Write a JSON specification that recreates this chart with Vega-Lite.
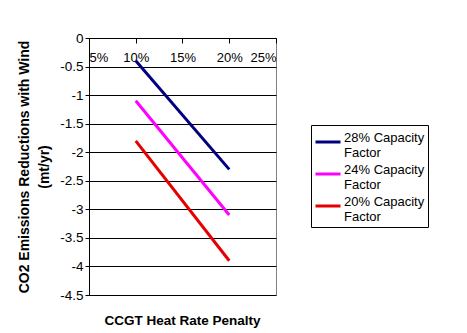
{
  "$schema": "https://vega.github.io/schema/vega-lite/v6.json",
  "width": 187,
  "height": 257,
  "autosize": "none",
  "padding": {"left": 89, "top": 38, "right": 191, "bottom": 38},
  "background": "white",
  "config": {
    "font": "Liberation Sans",
    "view": {"stroke": "#808080", "strokeWidth": 1}
  },
  "title": {
    "text": "CCGT Heat Rate Penalty",
    "orient": "bottom",
    "offset": 12,
    "fontSize": 13.5,
    "fontWeight": "bold",
    "font": "Liberation Sans",
    "color": "black"
  },
  "data": {
    "values": [
      {"penalty": 0.10, "co2": -0.4, "series": "28% Capacity Factor"},
      {"penalty": 0.20, "co2": -2.3, "series": "28% Capacity Factor"},
      {"penalty": 0.10, "co2": -1.1, "series": "24% Capacity Factor"},
      {"penalty": 0.20, "co2": -3.1, "series": "24% Capacity Factor"},
      {"penalty": 0.10, "co2": -1.8, "series": "20% Capacity Factor"},
      {"penalty": 0.20, "co2": -3.9, "series": "20% Capacity Factor"}
    ]
  },
  "mark": {"type": "line", "strokeWidth": 3},
  "encoding": {
    "x": {
      "field": "penalty",
      "type": "quantitative",
      "scale": {"domain": [0.05, 0.25], "nice": false, "zero": false},
      "axis": {
        "orient": "bottom",
        "offset": -257,
        "title": null,
        "values": [0.05, 0.1, 0.15, 0.2, 0.25],
        "format": ".0%",
        "grid": false,
        "domainColor": "black",
        "tickColor": "black",
        "tickSize": 5,
        "labelFontSize": 13,
        "labelColor": "black",
        "labelPadding": 8
      }
    },
    "y": {
      "field": "co2",
      "type": "quantitative",
      "scale": {"domain": [-4.5, 0], "nice": false, "zero": false},
      "axis": {
        "values": [0, -0.5, -1, -1.5, -2, -2.5, -3, -3.5, -4, -4.5],
        "labelExpr": "'' + datum.value",
        "grid": true,
        "gridColor": "black",
        "gridOpacity": 1,
        "domainColor": "black",
        "tickColor": "black",
        "tickSize": 4,
        "labelFontSize": 13.5,
        "labelColor": "black",
        "labelPadding": 2,
        "title": ["CO2 Emissions Reductions  with Wind", "(mt/yr)"],
        "titleFontSize": 14,
        "titleFontWeight": "bold",
        "titleColor": "black",
        "titlePadding": 8,
        "titleLineHeight": 20
      }
    },
    "color": {
      "field": "series",
      "type": "nominal",
      "scale": {
        "domain": ["28% Capacity Factor", "24% Capacity Factor", "20% Capacity Factor"],
        "range": ["#000080", "#FF00FF", "#E60000"]
      },
      "legend": {
        "orient": "none",
        "legendX": 222,
        "legendY": 87,
        "title": null,
        "strokeColor": "black",
        "fillColor": "white",
        "padding": 3,
        "symbolType": "stroke",
        "symbolSize": 625,
        "symbolStrokeWidth": 3,
        "labelFontSize": 13,
        "labelColor": "black",
        "labelBaseline": "alphabetic",
        "labelExpr": "[substring(datum.label, 0, 12), 'Factor']",
        "labelOffset": 2,
        "rowPadding": 0,
        "labelLimit": 200,
        "encode": {
          "labels": {"update": {"lineHeight": {"value": 15}}}
        }
      }
    }
  }
}
